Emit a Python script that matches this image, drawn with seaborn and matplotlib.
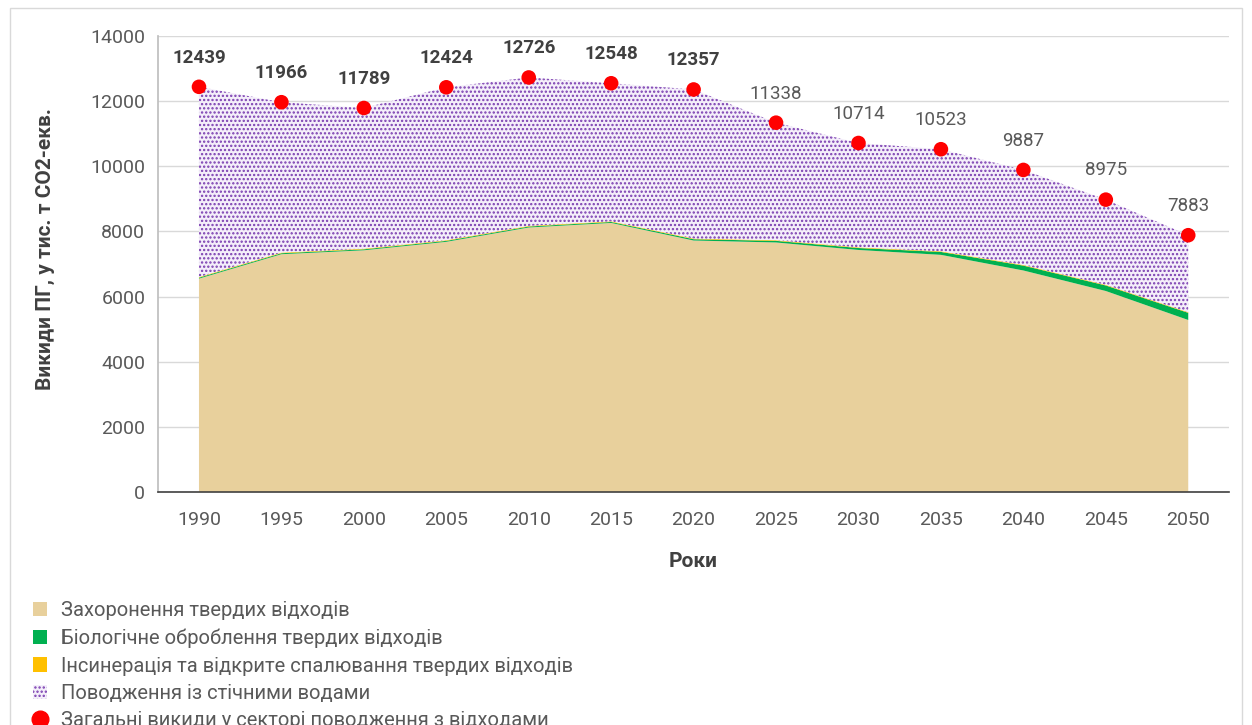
import matplotlib
matplotlib.use("Agg")
import matplotlib.pyplot as plt
import seaborn as sns
import pandas as pd
from matplotlib.patches import Patch, Rectangle
from matplotlib.lines import Line2D

# Дані (оцінено з графіка)
roky = [1990, 1995, 2000, 2005, 2010, 2015, 2020, 2025, 2030, 2035, 2040, 2045, 2050]
zahoronennia = [6550, 7300, 7420, 7680, 8120, 8260, 7720, 7660, 7430, 7280, 6800, 6170, 5280]
biologichne = [30, 30, 30, 30, 30, 30, 40, 50, 60, 90, 150, 170, 220]
insyneratsiia = [20, 20, 20, 20, 20, 20, 20, 20, 20, 20, 20, 20, 20]
zagalni = [12439, 11966, 11789, 12424, 12726, 12548, 12357, 11338, 10714, 10523, 9887, 8975, 7883]
stichni = [t - a - b - c for t, a, b, c in zip(zagalni, zahoronennia, biologichne, insyneratsiia)]
pidpysy_zhyrni = [True] * 7 + [False] * 6

kat_zahor = 'Захоронення твердих відходів'
kat_bio = 'Біологічне оброблення твердих відходів'
kat_ins = 'Інсинерація та відкрите спалювання твердих відходів'
kat_stich = 'Поводження із стічними водами'
kat_zag = 'Загальні викиди у секторі поводження з відходами'

df = pd.DataFrame({'rik': roky, 'poz': range(len(roky)), 'zagalni': zagalni})

sns.set_theme(style='white')
plt.rcParams['font.family'] = ['Roboto', 'DejaVu Sans']
plt.rcParams['hatch.linewidth'] = 1.1

fig = plt.figure(figsize=(12.52, 7.25), dpi=100)
ax = fig.add_axes([0.126, 0.3214, 0.856, 0.629])

# рамка діаграми
fig.patches.append(Rectangle((0.008, -0.1), 0.984, 1.089, transform=fig.transFigure,
                             fill=False, edgecolor='#D9D9D9', linewidth=1))

x = df['poz']
n1 = zahoronennia
n2 = [a + b for a, b in zip(n1, biologichne)]
n3 = [a + b for a, b in zip(n2, insyneratsiia)]
n4 = [a + b for a, b in zip(n3, stichni)]

ax.fill_between(x, 0, n1, facecolor='#E8D09C', edgecolor='none', zorder=2)
ax.fill_between(x, n1, n2, facecolor='#00B050', edgecolor='none', zorder=2)
ax.fill_between(x, n2, n3, facecolor='#FFC000', edgecolor='none', zorder=2)
ax.fill_between(x, n3, n4, facecolor='#F4EEFA', edgecolor='#7A3DB0', hatch='....',
                linewidth=0, zorder=2)

sns.scatterplot(data=df, x='poz', y='zagalni', color='#FF0000', s=110,
                edgecolor='none', ax=ax, zorder=4)

for i, v in enumerate(zagalni):
    ax.annotate(str(v), (i, v), xytext=(0, 21), textcoords='offset points',
                ha='center', va='center', fontsize=13.5,
                fontweight='bold' if pidpysy_zhyrni[i] else 'normal',
                color='#404040' if pidpysy_zhyrni[i] else '#595959', zorder=5)

ax.set_xlim(-0.5, len(roky) - 0.5)
ax.set_ylim(0, 14000)
ax.set_yticks(range(0, 14001, 2000))
ax.set_xticks(range(len(roky)))
ax.set_xticklabels([str(r) for r in roky])
ax.set_xticks([i - 0.5 for i in range(len(roky) + 1)], minor=True)
ax.tick_params(axis='x', which='major', length=0, pad=14, labelsize=14, labelcolor='#595959')
ax.tick_params(axis='x', which='minor', length=6, width=1, color='#404040', direction='out')
ax.tick_params(axis='y', length=0, pad=9, labelsize=14, labelcolor='#595959')
ax.grid(axis='y', color='#D9D9D9', linewidth=1, zorder=0)
ax.set_axisbelow(True)

for s in ['top', 'right']:
    ax.spines[s].set_visible(False)
ax.spines['left'].set_color('#BFBFBF')
ax.spines['bottom'].set_color('#404040')
ax.spines['bottom'].set_linewidth(1.2)

ax.set_xlabel('Роки', fontsize=15, fontweight='bold', color='#404040', labelpad=16)
ax.set_ylabel('Викиди ПГ, у тис. т СО2-екв.', fontsize=15, fontweight='bold',
              color='#404040')
ax.yaxis.set_label_coords(-0.096, 0.533)

handles = [
    Patch(facecolor='#E8D09C', edgecolor='none', label=kat_zahor),
    Patch(facecolor='#00B050', edgecolor='none', label=kat_bio),
    Patch(facecolor='#FFC000', edgecolor='none', label=kat_ins),
    Patch(facecolor='#F4EEFA', edgecolor='#7A3DB0', hatch='....', linewidth=0, label=kat_stich),
    Line2D([], [], marker='o', linestyle='none', color='#FF0000', markersize=12, label=kat_zag),
]
leg = fig.legend(handles=handles, loc='upper left', bbox_to_anchor=(0.02, 0.182),
                 frameon=False, fontsize=14.5, labelcolor='#595959', handlelength=0.7,
                 handleheight=0.7, handletextpad=0.7, labelspacing=0.42, borderaxespad=0)

fig.savefig('out.png', dpi=100)
